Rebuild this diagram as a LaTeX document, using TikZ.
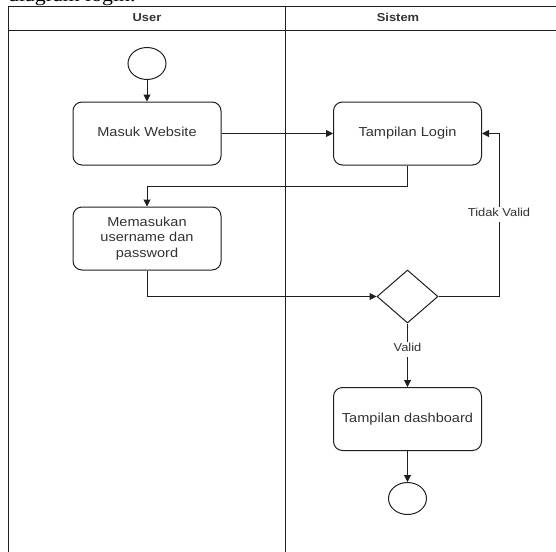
\documentclass[tikz,border=0pt]{standalone}
\usepackage{fontspec}
\setmainfont{Liberation Sans}
\newfontfamily\serifdoc{Liberation Serif}
\usetikzlibrary{arrows.meta,shapes.geometric}

% text is set slightly wider than tall
\newcommand{\sx}[1]{\scalebox{1.12}[1]{\begin{tabular}{@{}c@{}}#1\end{tabular}}}

\definecolor{ink}{HTML}{1F1F1F}
\definecolor{txt}{HTML}{333333}

\tikzset{
  lane/.style={draw=ink, line width=1pt},
  act/.style={draw=ink, line width=1pt, rounded corners=9pt, fill=white,
    minimum width=148pt, minimum height=63pt, inner sep=0pt,
    text=txt, font=\fontsize{13}{15.5}\selectfont},
  term/.style={draw=ink, line width=1pt, ellipse, fill=white,
    minimum width=38pt, minimum height=32pt, inner sep=0pt},
  decide/.style={draw=ink, line width=1pt, diamond, fill=white,
    minimum width=61pt, minimum height=53pt, inner sep=0pt},
  head/.style={text=txt, font=\bfseries\fontsize{11.5}{13}\selectfont, inner sep=0pt},
  lbl/.style={fill=white, text=txt, font=\fontsize{11.5}{13}\selectfont, inner sep=1pt},
  arr/.style={draw=ink, line width=1pt, -{Triangle[length=7pt,width=7pt]}},
}

\begin{document}
\begin{tikzpicture}[x=1pt, y=-1pt]
\useasboundingbox (0,0) rectangle (556,551);
\clip (0,0) rectangle (556,551);

% caption line of the surrounding page
\node[anchor=base west, inner sep=0pt, text=black,
      font=\serifdoc\fontsize{19.5}{20}\selectfont] (cap) at (8,2)
  {\scalebox{1.12}[1]{diagram login.}};

% swimlane pool
\draw[lane] (8,600) -- (8,6.5) -- (570,6.5);
\draw[lane] (8,31) -- (570,31);
\draw[lane] (285,6.5) -- (285,600);
\node[head] (huser) at (147,19) {\sx{User}};
\node[head] (hsys) at (398,19) {\sx{Sistem}};

% activities
\node[term] (start) at (147,63.5) {};
\node[act] (masuk) at (147,133.5) {\sx{Masuk Website}};
\node[act] (login) at (407.5,133.5) {\sx{Tampilan Login}};
\node[act] (input) at (147,238.5) {\sx{Memasukan\\username dan\\password}};
\node[decide] (dec) at (407.5,296.5) {};
\node[act] (dash) at (407.5,419) {\sx{Tampilan dashboard}};
\node[term] (end) at (407.5,498.5) {};

% flow
\draw[arr] (start) -- (masuk);
\draw[arr] (masuk) -- (login);
\draw[arr] (login.south) -- ++(0,21) -| (input.north);
\draw[arr] (input.south) |- (dec.west);
\coordinate (bend) at (499,296.5);
\draw[arr] (dec.east) -- (bend) |- (login.east);
\node[lbl] (tv) at (499,214) {\sx{Tidak Valid}};
\draw[arr] (dec.south) -- (dash.north);
\node[lbl] (v) at (407.5,349) {\sx{Valid}};
\draw[arr] (dash.south) -- (end.north);
\end{tikzpicture}
\end{document}
